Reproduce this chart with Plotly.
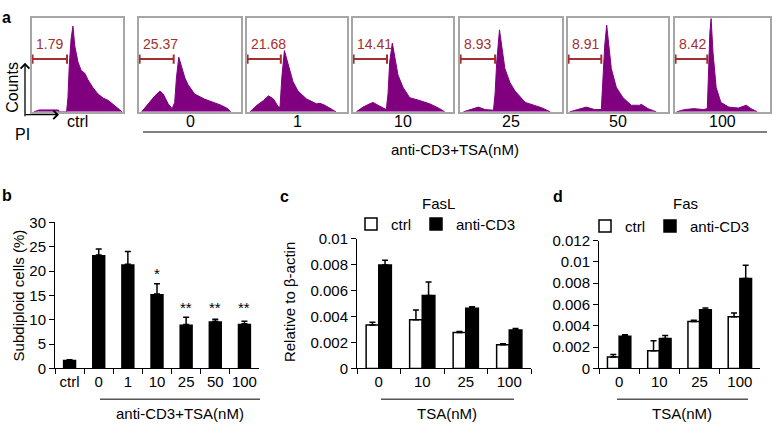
import plotly.graph_objects as go

W, H = 779, 436
FONT = "Liberation Sans, Arial, sans-serif"
PURPLE = "#800080"
GATE_RED = "#a3302e"

# ---- panel a: PI histograms (x, y in % of the box) ----
hist_labels = ["ctrl", "0", "1", "10", "25", "50", "100"]
gate_pct = ["1.79", "25.37", "21.68", "14.41", "8.93", "8.91", "8.42"]
gate_end = [38.5, 34, 33.8, 34, 34.4, 33.3, 34]

h_ctrl_x = [2, 8, 29, 30, 38, 39.5, 41, 43, 45, 47, 50.5, 54, 58, 61.5, 67, 72.5, 78, 81.7, 84, 89, 94.5, 99]
h_ctrl_y = [0, 2, 2, 0, 0, 15, 50, 78, 91, 70, 53, 44, 41, 34, 25.6, 19, 14.7, 12.6, 12, 8, 3.4, 0]
h_0_x = [2.6, 9, 15.6, 20.5, 23.7, 28.6, 32.5, 35, 36.7, 39, 41.5, 45, 48, 54.5, 64, 74, 80.5, 87, 90]
h_0_y = [0, 8.5, 17, 22, 19, 8.5, 3.4, 10, 36, 58, 49.5, 36, 29, 19, 13.6, 10, 7, 3.4, 0]
h_1_x = [3, 10, 16.5, 21.5, 26.5, 31.5, 33, 34.8, 37.4, 39.7, 43, 46, 51, 59.6, 69.5, 73, 77.8, 84.4, 89]
h_1_y = [0, 7, 12, 17, 13.6, 5, 5, 36, 65, 56, 41, 32, 22, 13.6, 8.5, 9, 7, 3.4, 0]
h_10_x = [3.3, 10, 16.7, 20, 25, 33.3, 35, 36.7, 39.3, 41.7, 45, 50, 56.7, 66.7, 76.7, 86.7, 91.7]
h_10_y = [0, 5, 8.5, 10, 7, 2.4, 19, 53, 73, 60, 39, 26, 15, 12, 8.5, 3.4, 0]
h_25_x = [3.3, 11.5, 18, 24.6, 32.8, 34.4, 36, 38.7, 41, 44, 49, 54, 64, 73.8, 80, 88.5]
h_25_y = [0, 2.4, 5, 2.4, 1.7, 19, 53, 87, 66.5, 46, 31, 22, 10, 7, 4.4, 0]
h_50_x = [1.7, 10, 18.3, 26.7, 33.3, 35, 36.7, 38.7, 40.7, 43.3, 48.3, 55, 63.3, 71.7, 73.3, 80, 88.3]
h_50_y = [0, 2.4, 5, 2.4, 2.4, 36, 70, 92, 70, 46, 26, 15, 7, 7, 8, 3.4, 0]
h_100_x = [1.7, 10, 20, 30, 34, 35, 36.7, 38, 40, 43.3, 48.3, 56.7, 66.7, 75, 80, 86.7]
h_100_y = [0, 2.4, 3.4, 2.4, 3.4, 36, 84, 99, 63, 26, 10, 5, 4, 7, 3.4, 0]

# ---- panel b ----
b_cats = ["ctrl", "0", "1", "10", "25", "50", "100"]
b_vals = [1.8, 23.3, 21.4, 15.3, 9.0, 9.7, 9.15]
b_err_top = [1.8, 24.5, 24.0, 17.4, 10.5, 10.1, 9.7]
b_stars = ["", "", "", "*", "**", "**", "**"]
b_star_y = [0, 0, 0, 20.4, 13.3, 13.4, 13.4]

# ---- panels c, d ----
tsa_cats = ["0", "10", "25", "100"]
fasl_ctrl = [0.00334, 0.00376, 0.00277, 0.00183]
fasl_ctrl_top = [0.00356, 0.0045, 0.00285, 0.0019]
fasl_cd3 = [0.00797, 0.00562, 0.00463, 0.00297]
fasl_cd3_top = [0.00834, 0.00666, 0.00475, 0.00307]
fas_ctrl = [0.00106, 0.00166, 0.0044, 0.00486]
fas_ctrl_top = [0.0013, 0.0026, 0.00452, 0.0052]
fas_cd3 = [0.00302, 0.0028, 0.0055, 0.00845]
fas_cd3_top = [0.00317, 0.0031, 0.00567, 0.00968]


def px(x):
    return x / W


def py(y):
    return 1 - y / H


fig = go.Figure()
layout = {}
annotations = []
shapes = []

# histogram boxes (pixel positions)
box_left = [32, 139, 247, 353, 460, 568, 675]
box_right = [123, 241, 347, 453, 562, 668, 770]
hist_x = [h_ctrl_x, h_0_x, h_1_x, h_10_x, h_25_x, h_50_x, h_100_x]
hist_y = [h_ctrl_y, h_0_y, h_1_y, h_10_y, h_25_y, h_50_y, h_100_y]

for i in range(7):
    n = i + 1
    xa = "x" if n == 1 else f"x{n}"
    ya = "y" if n == 1 else f"y{n}"
    fig.add_trace(go.Scatter(
        x=hist_x[i], y=hist_y[i], mode="lines", fill="tozeroy",
        line=dict(color=PURPLE, width=1), fillcolor=PURPLE,
        xaxis=xa, yaxis=ya, showlegend=False, hoverinfo="skip"))
    # gate marker
    fig.add_trace(go.Scatter(
        x=[0.6, gate_end[i]], y=[56, 56], mode="lines",
        line=dict(color=GATE_RED, width=2),
        error_y=dict(type="constant", value=5, width=0, thickness=2, color=GATE_RED),
        xaxis=xa, yaxis=ya, showlegend=False, hoverinfo="skip"))
    annotations.append(dict(x=2, y=72, xref=xa, yref=ya, text=gate_pct[i],
                            showarrow=False, xanchor="left", yanchor="middle",
                            font=dict(size=14, color=GATE_RED)))
    annotations.append(dict(x=0.5, y=py(117), xref=f"{xa} domain", yref="paper",
                            text=hist_labels[i], showarrow=False,
                            yanchor="middle", font=dict(size=16)))
    ax_style = dict(range=[0, 100], showline=True, mirror=True, linecolor="#a6a6a6",
                    linewidth=1.5, showticklabels=False, ticks="", showgrid=False,
                    zeroline=False, fixedrange=True)
    layout["xaxis" if n == 1 else f"xaxis{n}"] = dict(
        ax_style, domain=[px(box_left[i]), px(box_right[i])], anchor=ya)
    layout["yaxis" if n == 1 else f"yaxis{n}"] = dict(
        ax_style, domain=[py(107), py(9)], anchor=xa)

# panel b
fig.add_trace(go.Bar(
    x=b_cats, y=b_vals, width=0.46, marker=dict(color="black", line=dict(width=0)),
    error_y=dict(type="data", symmetric=False,
                 array=[t - v for t, v in zip(b_err_top, b_vals)],
                 arrayminus=[0] * len(b_vals), color="black", thickness=1.5, width=3),
    xaxis="x8", yaxis="y8", showlegend=False))
for k, (star, sy) in enumerate(zip(b_stars, b_star_y)):
    if star:
        annotations.append(dict(x=k, y=sy, xref="x8", yref="y8", text=star,
                                showarrow=False, yanchor="middle", yshift=-4,
                                font=dict(size=15, color="black")))

# panels c and d
for ctrl, ctop, cd3, dtop, xa, ya, leg in [
        (fasl_ctrl, fasl_ctrl_top, fasl_cd3, fasl_cd3_top, "x9", "y9", "legend"),
        (fas_ctrl, fas_ctrl_top, fas_cd3, fas_cd3_top, "x10", "y10", "legend2")]:
    fig.add_trace(go.Bar(
        x=tsa_cats, y=ctrl, name="ctrl",
        marker=dict(color="white", line=dict(color="black", width=1.5)),
        error_y=dict(type="data", symmetric=False,
                     array=[t - v for t, v in zip(ctop, ctrl)], arrayminus=[0] * 4,
                     color="black", thickness=1.5, width=3),
        xaxis=xa, yaxis=ya, legend=leg))
    fig.add_trace(go.Bar(
        x=tsa_cats, y=cd3, name="anti-CD3",
        marker=dict(color="black", line=dict(color="black", width=1.5)),
        error_y=dict(type="data", symmetric=False,
                     array=[t - v for t, v in zip(dtop, cd3)], arrayminus=[0] * 4,
                     color="black", thickness=1.5, width=3),
        xaxis=xa, yaxis=ya, legend=leg))

bar_x = dict(type="category", tickson="boundaries", ticks="outside", ticklen=5,
             tickcolor="black", showline=True, linecolor="black", linewidth=1,
             showgrid=False, zeroline=False, tickangle=0, tickfont=dict(size=15))
bar_y = dict(ticks="outside", ticklen=5, tickcolor="black", showline=True,
             linecolor="black", linewidth=1, showgrid=False, zeroline=False,
             tickfont=dict(size=15))

layout["xaxis8"] = dict(bar_x, domain=[px(55), px(259)], anchor="y8",
                        range=[-0.5, len(b_cats) - 0.5])
layout["yaxis8"] = dict(bar_y, domain=[py(374), py(222)], anchor="x8",
                        range=[0, 30], dtick=5)
layout["xaxis9"] = dict(bar_x, domain=[px(357), px(531)], anchor="y9",
                        range=[-0.5, len(tsa_cats) - 0.5])
layout["yaxis9"] = dict(bar_y, domain=[py(374), py(239)], anchor="x9",
                        range=[0, 0.01], dtick=0.002)
layout["xaxis10"] = dict(bar_x, domain=[px(599), px(760)], anchor="y10",
                         range=[-0.5, len(tsa_cats) - 0.5])
layout["yaxis10"] = dict(bar_y, domain=[py(374), py(241)], anchor="x10",
                         range=[0, 0.012], dtick=0.002)

# texts
def note(x, y, text, size=15, bold=False, angle=0, xanchor="center"):
    annotations.append(dict(x=px(x), y=py(y), xref="paper", yref="paper",
                            text=f"<b>{text}</b>" if bold else text,
                            showarrow=False, textangle=angle, xanchor=xanchor,
                            yanchor="middle", font=dict(size=size)))

note(0, 9, "a", 16, True, xanchor="left")
note(13, 82, "Counts", 16, angle=-90)
note(22, 131, "PI", 16)
note(455, 146, "anti-CD3+TSA(nM)", 15)
note(0, 194, "b", 16, True, xanchor="left")
note(18, 298, "Subdiploid cells (%)", 15, angle=-90)
note(180, 421, "anti-CD3+TSA(nM)", 15)
note(278, 195, "c", 16, True, xanchor="left")
note(438, 202, "FasL", 15)
note(289, 305, "Relative to β-actin", 15, angle=-90)
note(447, 421, "TSA(nM)", 15)
note(551, 195, "d", 16, True, xanchor="left")
note(685, 202, "Fas", 15)
note(682, 421, "TSA(nM)", 15)

# axis arrows in panel a (offsets in pixels from the arrow head)
annotations.append(dict(x=px(25), y=py(56), xref="paper", yref="paper", ax=0, ay=55,
                        text="", showarrow=True, arrowhead=4, arrowsize=1.3,
                        arrowwidth=1.3, arrowcolor="black"))
annotations.append(dict(x=px(59), y=py(110), xref="paper", yref="paper", ax=-35, ay=0,
                        text="", showarrow=True, arrowhead=4, arrowsize=1.3,
                        arrowwidth=1.3, arrowcolor="black"))

for x0, x1, y in [(143, 767, 128), (100, 260, 406), (381, 514, 406), (617, 748, 406)]:
    shapes.append(dict(type="line", xref="paper", yref="paper", x0=px(x0), x1=px(x1),
                       y0=py(y), y1=py(y), line=dict(color="black", width=1)))

fig.update_layout(
    width=W, height=H, margin=dict(l=0, r=0, t=0, b=0),
    paper_bgcolor="white", plot_bgcolor="white",
    font=dict(family=FONT, size=15, color="black"),
    barmode="group", bargap=0.42, bargroupgap=0,
    annotations=annotations, shapes=shapes,
    legend=dict(orientation="h", x=px(436), y=py(224), xanchor="center",
                yanchor="middle", font=dict(size=15), itemwidth=30,
                bgcolor="rgba(0,0,0,0)"),
    legend2=dict(orientation="h", x=px(670), y=py(226), xanchor="center",
                 yanchor="middle", font=dict(size=15), itemwidth=30,
                 bgcolor="rgba(0,0,0,0)"),
    **layout)

# the page body has a default 8px margin; drop it so the figure sits at 0,0
fig.write_html("out.html", config={"displayModeBar": False},
               post_script="document.body.style.margin='0';")
